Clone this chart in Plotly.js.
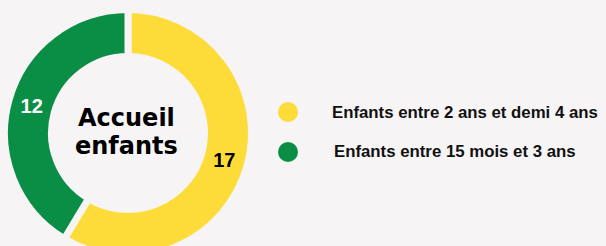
<!DOCTYPE html>
<html>
<head>
<meta charset="utf-8">
<script src="https://cdn.plot.ly/plotly-3.0.1.min.js"></script>
<style>
html,body{margin:0;padding:0;background:#F6F4F5;overflow:hidden;}
#chart{width:606px;height:260px;}
</style>
</head>
<body>
<div id="chart"></div>
<script>
const categories = ["Enfants entre 2 ans et demi 4 ans", "Enfants entre 15 mois et 3 ans"];
const values = [17, 12];
const colors = ["#FDDC3A", "#0A8D45"];
const textColors = ["#000000", "#FFFFFF"];
const centerTitle = ["Accueil", "enfants"];

const W = 606, H = 260, BG = "#F6F4F5";
const cx = 128, cy = 133, R = 123.5, rin = 76.5;
const px = x => x / W;
const py = y => (H - y) / H;

const trace = {
  type: "pie",
  labels: categories,
  values: values,
  sort: false,
  direction: "clockwise",
  rotation: 0,
  hole: rin / R,
  marker: {colors: colors, line: {color: BG, width: 7}},
  textinfo: "value",
  texttemplate: "<b>%{value}</b>",
  textposition: "inside",
  insidetextorientation: "horizontal",
  textfont: {family: "Liberation Sans, Arial, sans-serif", size: 20, color: textColors},
  domain: {x: [px(cx - R), px(cx + R)], y: [py(cy + R), py(cy - R)]},
  showlegend: false,
  hoverinfo: "label+value"
};

const legendY = [112, 152];
const shapes = categories.map((c, i) => ({
  type: "circle", xref: "paper", yref: "paper",
  xsizemode: "pixel", ysizemode: "pixel",
  xanchor: px(288), yanchor: py(legendY[i]),
  x0: -10, x1: 10, y0: -10, y1: 10,
  fillcolor: colors[i], line: {width: 0}
}));

const annotations = categories.map((c, i) => ({
  xref: "paper", yref: "paper", x: px(i === 0 ? 330 : 332), y: py(legendY[i]),
  xanchor: "left", yanchor: "middle", showarrow: false,
  text: "<b>" + c + "</b>",
  font: {family: "Liberation Sans, Arial, sans-serif", size: 16.8, color: "#111111"}
}));
centerTitle.forEach((t, i) => annotations.push({
  xref: "paper", yref: "paper", x: px(126), y: py(i === 0 ? 118 : 146),
  xanchor: "center", yanchor: "middle", showarrow: false,
  borderpad: 0,
  text: "<b>" + t + "</b>",
  font: {family: "DejaVu Sans, sans-serif", size: 24, color: "#000000"}
}));

const layout = {
  width: W, height: H,
  margin: {l: 0, r: 0, t: 0, b: 0},
  paper_bgcolor: BG, plot_bgcolor: BG,
  shapes: shapes,
  annotations: annotations,
  showlegend: false
};

Plotly.newPlot("chart", [trace], layout, {displayModeBar: false, staticPlot: true});
</script>
</body>
</html>
